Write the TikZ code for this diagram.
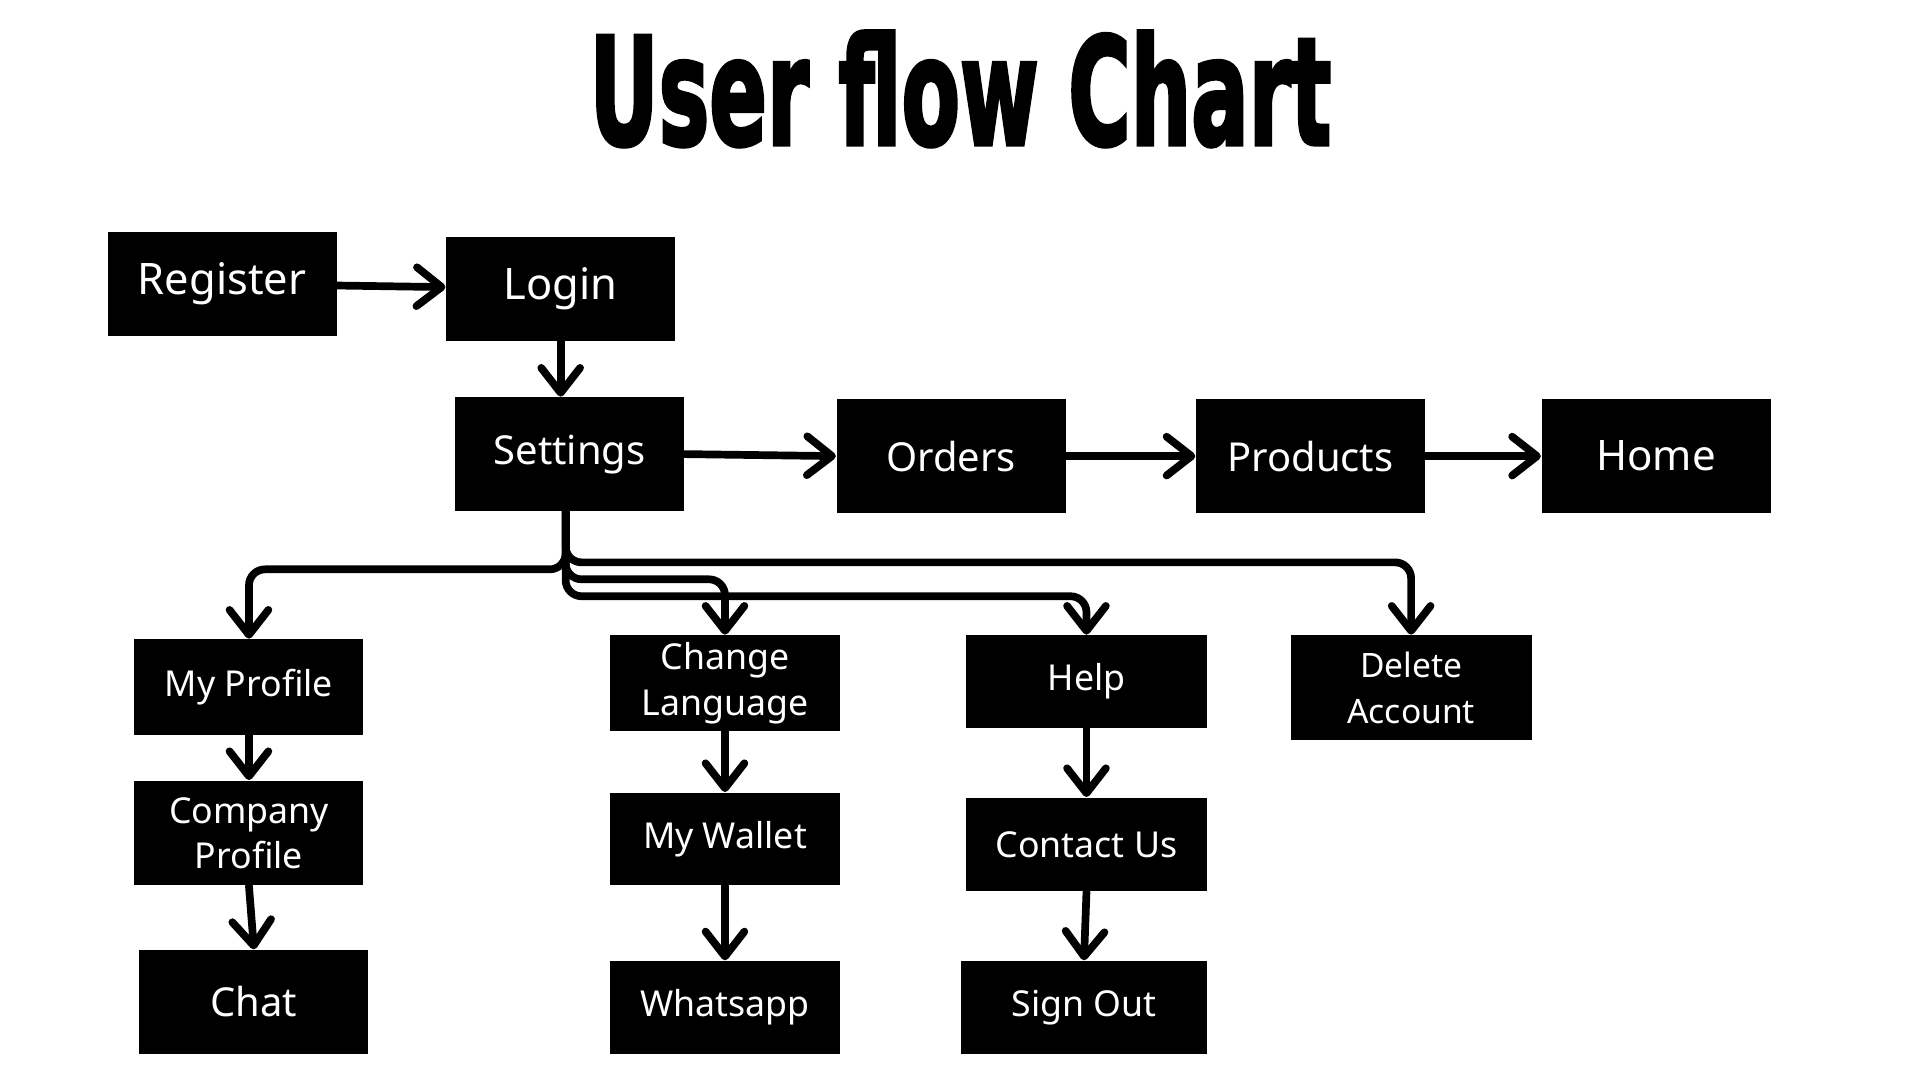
\documentclass[tikz,border=0pt]{standalone}
\usepackage{fontspec}
\setmainfont{Noto Sans}
\newfontfamily\titlefont{DejaVu Sans}[FakeBold=3]
\usetikzlibrary{arrows.meta}

\begin{document}
\begin{tikzpicture}[
        % 節點樣式:黑底白字的方框
        box_node/.style={
            rectangle,
            fill=black,
            text=white,
            minimum width=2.3cm,
            minimum height=1.04cm,
            inner sep=0pt,
            align=center,
            font=\fontsize{10.2pt}{13pt}\selectfont
        },
        % 連線樣式:粗黑線 + 開口箭頭
        flow_line/.style={
            draw=black,
            line width=2.2pt,
            line cap=round,
            line join=round,
            -{Straight Barb[length=2.5mm,width=3.9mm,line cap=round,line join=round]}
        },
        % 標題文字
        title_text/.style={
            anchor=base,
            inner sep=0pt,
            font=\titlefont\bfseries\fontsize{42.5pt}{42.5pt}\selectfont
        }
    ]

    % 固定畫布大小 (1920 x 1080)
    \useasboundingbox (0,0) rectangle (19.28,-10.845);

    % --- 標題 ---
    \node[title_text] (title) at (9.645,-1.45) {\scalebox{0.572}[1]{User flow Chart}};

    % --- 第一列:註冊 / 登入 ---
    \node[box_node, font=\fontsize{12.4pt}{15pt}\selectfont] (register) at (2.23,-2.85) {Register};
    \node[box_node, font=\fontsize{12.4pt}{15pt}\selectfont] (login) at (5.63,-2.90) {Login};

    % --- 第二列:設定 -> 訂單 -> 產品 -> 首頁 ---
    \node[box_node, minimum height=1.14cm, font=\fontsize{11.4pt}{14pt}\selectfont] (settings) at (5.72,-4.56) {Settings};
    \node[box_node, minimum height=1.15cm, font=\fontsize{11.4pt}{14pt}\selectfont] (orders) at (9.55,-4.58) {Orders};
    \node[box_node, minimum height=1.15cm, font=\fontsize{11.4pt}{14pt}\selectfont] (products) at (13.16,-4.58) {Products};
    \node[box_node, minimum height=1.15cm, font=\fontsize{12pt}{14pt}\selectfont] (home) at (16.63,-4.58) {Home};

    % --- 左欄 (個人資料) ---
    \node[box_node, minimum height=0.96cm] (profile) at (2.50,-6.90) {My Profile};
    \node[box_node, minimum height=1.05cm] (company) at (2.50,-8.365) {Company\\Profile};
    \node[box_node, font=\fontsize{11.4pt}{14pt}\selectfont] (chat) at (2.55,-10.06) {Chat};

    % --- 中欄 (語言 / 錢包) ---
    \node[box_node, minimum height=0.96cm] (language) at (7.28,-6.86) {Change\\Language};
    \node[box_node, minimum height=0.93cm] (wallet) at (7.28,-8.425) {My Wallet};
    \node[box_node, minimum height=0.93cm] (whatsapp) at (7.28,-10.115) {Whatsapp};

    % --- 右欄 (說明 / 登出) ---
    \node[box_node, minimum width=2.42cm, minimum height=0.93cm] (help) at (10.91,-6.845) {Help};
    \node[box_node, minimum width=2.42cm, minimum height=0.94cm] (contact) at (10.91,-8.48) {Contact Us};
    \node[box_node, minimum width=2.47cm, minimum height=0.93cm] (signout) at (10.885,-10.115) {Sign Out};

    % --- 刪除帳號 ---
    \node[box_node, minimum width=2.42cm, minimum height=1.05cm, font=\fontsize{9.6pt}{13pt}\selectfont] (delete) at (14.17,-6.905) {Delete\\Account};

    % --- 主流程連線 ---
    \draw[flow_line] (register) -- (login);
    \draw[flow_line] (login.south) -- (login.south |- settings.north);
    \draw[flow_line] (settings.east) -- (orders.west);
    \draw[flow_line] (orders.east) -- (products.west);
    \draw[flow_line] (products.east) -- (home.west);

    % --- 由設定分出的四條線 ---
    \draw[flow_line, rounded corners=0.16cm] ([xshift=-0.04cm]settings.south) -- ++(0,-0.58) -| (profile.north);
    \draw[flow_line, rounded corners=0.16cm] ([xshift=-0.04cm]settings.south) -- ++(0,-0.51) -| (delete.north);
    \draw[flow_line, rounded corners=0.16cm] ([xshift=-0.04cm]settings.south) -- ++(0,-0.68) -| (language.north);
    \draw[flow_line, rounded corners=0.16cm] ([xshift=-0.04cm]settings.south) -- ++(0,-0.85) -| (help.north);

    % --- 各欄往下的連線 ---
    \draw[flow_line] (profile.south) -- (company.north);
    \draw[flow_line] (company.south) -- (chat.north);
    \draw[flow_line] (language.south) -- (wallet.north);
    \draw[flow_line] (wallet.south) -- (whatsapp.north);
    \draw[flow_line] (help.south) -- (contact.north);
    \draw[flow_line] (contact.south) -- (signout.north);

\end{tikzpicture}
\end{document}
